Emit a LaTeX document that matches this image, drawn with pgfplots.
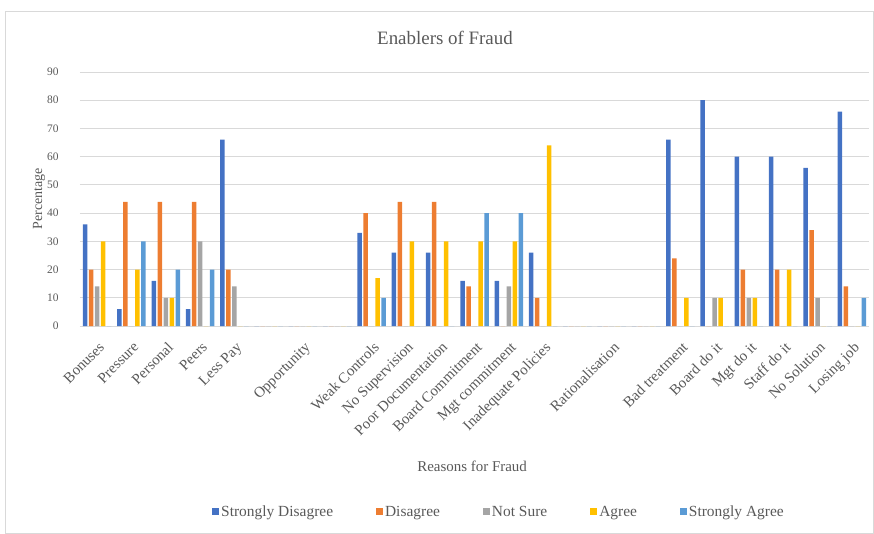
\documentclass[border=0pt]{standalone}
\usepackage{fontspec}
\setmainfont{Liberation Serif}
\usepackage{pgfplots}
\pgfplotsset{compat=1.18}
\usepackage{pgfplotstable}
\definecolor{sd}{HTML}{4472C4}
\definecolor{dd}{HTML}{ED7D31}
\definecolor{ns}{HTML}{A5A5A5}
\definecolor{ag}{HTML}{FFC000}
\definecolor{sa}{HTML}{5B9BD5}
\definecolor{txt}{HTML}{595959}
\definecolor{gridc}{HTML}{D9D9D9}

\pgfplotstableread{
x sd d ns a sa
0 36 20 14 30 0
1 6 44 0 20 30
2 16 44 10 10 20
3 6 44 30 0 20
4 66 20 14 0 0
5 0 0 0 0 0
6 0 0 0 0 0
7 0 0 0 0 0
8 33 40 0 17 10
9 26 44 0 30 0
10 26 44 0 30 0
11 16 14 0 30 40
12 16 0 14 30 40
13 26 10 0 64 0
14 0 0 0 0 0
15 0 0 0 0 0
16 0 0 0 0 0
17 66 24 0 10 0
18 80 0 10 10 0
19 60 20 10 10 0
20 60 20 0 20 0
21 56 34 10 0 0
22 76 14 0 0 10
}\data

\begin{document}
\begin{tikzpicture}
\useasboundingbox (-80bp,-208bp) rectangle (794bp,326bp);
\draw[gridc, line width=0.8bp] (-75bp,-207.6bp) rectangle (793.6bp,315bp);
\begin{axis}[
  at={(0,0)}, anchor=south west, scale only axis,
  width=789bp, height=254bp,
  ybar=1.5bp, bar width=4.5bp,
  xmin=-0.5, xmax=22.5, ymin=0, ymax=90,
  ytick={0,10,...,90},
  xtick={0,...,22},
  xticklabels={Bonuses,Pressure,Personal,Peers,Less Pay,{},Opportunity,{},Weak Controls,No Supervision,Poor Documentation,Board Commitment,Mgt commitment,Inadequate Policies,{},Rationalisation,{},Bad treatment,Board do it,Mgt do it,Staff do it,No Solution,Losing job},
  ymajorgrids, grid style={gridc, line width=0.8bp},
  axis x line*=bottom, axis y line*=left,
  x axis line style={gridc, line width=0.8bp, -},
  y axis line style={draw=none},
  major tick length=0pt,
  /pgf/number format/assume math mode=true,
  yticklabel style={font=\fontsize{11.5}{13}\selectfont, text=txt, xshift=-18bp},
  xticklabel style={font=\fontsize{15}{17}\selectfont, text=txt, inner sep=0pt, xshift=1bp, yshift=-15bp, rotate=45, anchor=north east},
  title={Enablers of Fraud},
  title style={font=\fontsize{19}{22}\selectfont, text=txt, at={(axis description cs:0.4626,1)}, anchor=center, yshift=28bp},
  ylabel={Percentage},
  ylabel style={font=\fontsize{14}{16}\selectfont, text=txt, at={(axis description cs:-0.052,0.5)}, anchor=center},
  xlabel={Reasons for Fraud},
  xlabel style={font=\fontsize{15}{17}\selectfont, text=txt, at={(axis description cs:0.497,-0.551)}, anchor=center},
  legend columns=5,
  legend style={at={(axis description cs:0.531,-0.732)}, anchor=center, draw=none, fill=none,
    font=\fontsize{15.5}{17}\selectfont, text=txt,
    /tikz/every even column/.append style={column sep=41bp}},
  legend image code/.code={\fill[#1] (0bp,-3.5bp) rectangle (7bp,3.5bp);},
]
\addplot[fill=sd, draw=none] table[x=x, y=sd]{\data};
\addplot[fill=dd, draw=none] table[x=x, y=d]{\data};
\addplot[fill=ns, draw=none] table[x=x, y=ns]{\data};
\addplot[fill=ag, draw=none] table[x=x, y=a]{\data};
\addplot[fill=sa, draw=none] table[x=x, y=sa]{\data};
\legend{Strongly Disagree, Disagree, Not Sure, Agree, Strongly Agree}
\end{axis}
\end{tikzpicture}
\end{document}
